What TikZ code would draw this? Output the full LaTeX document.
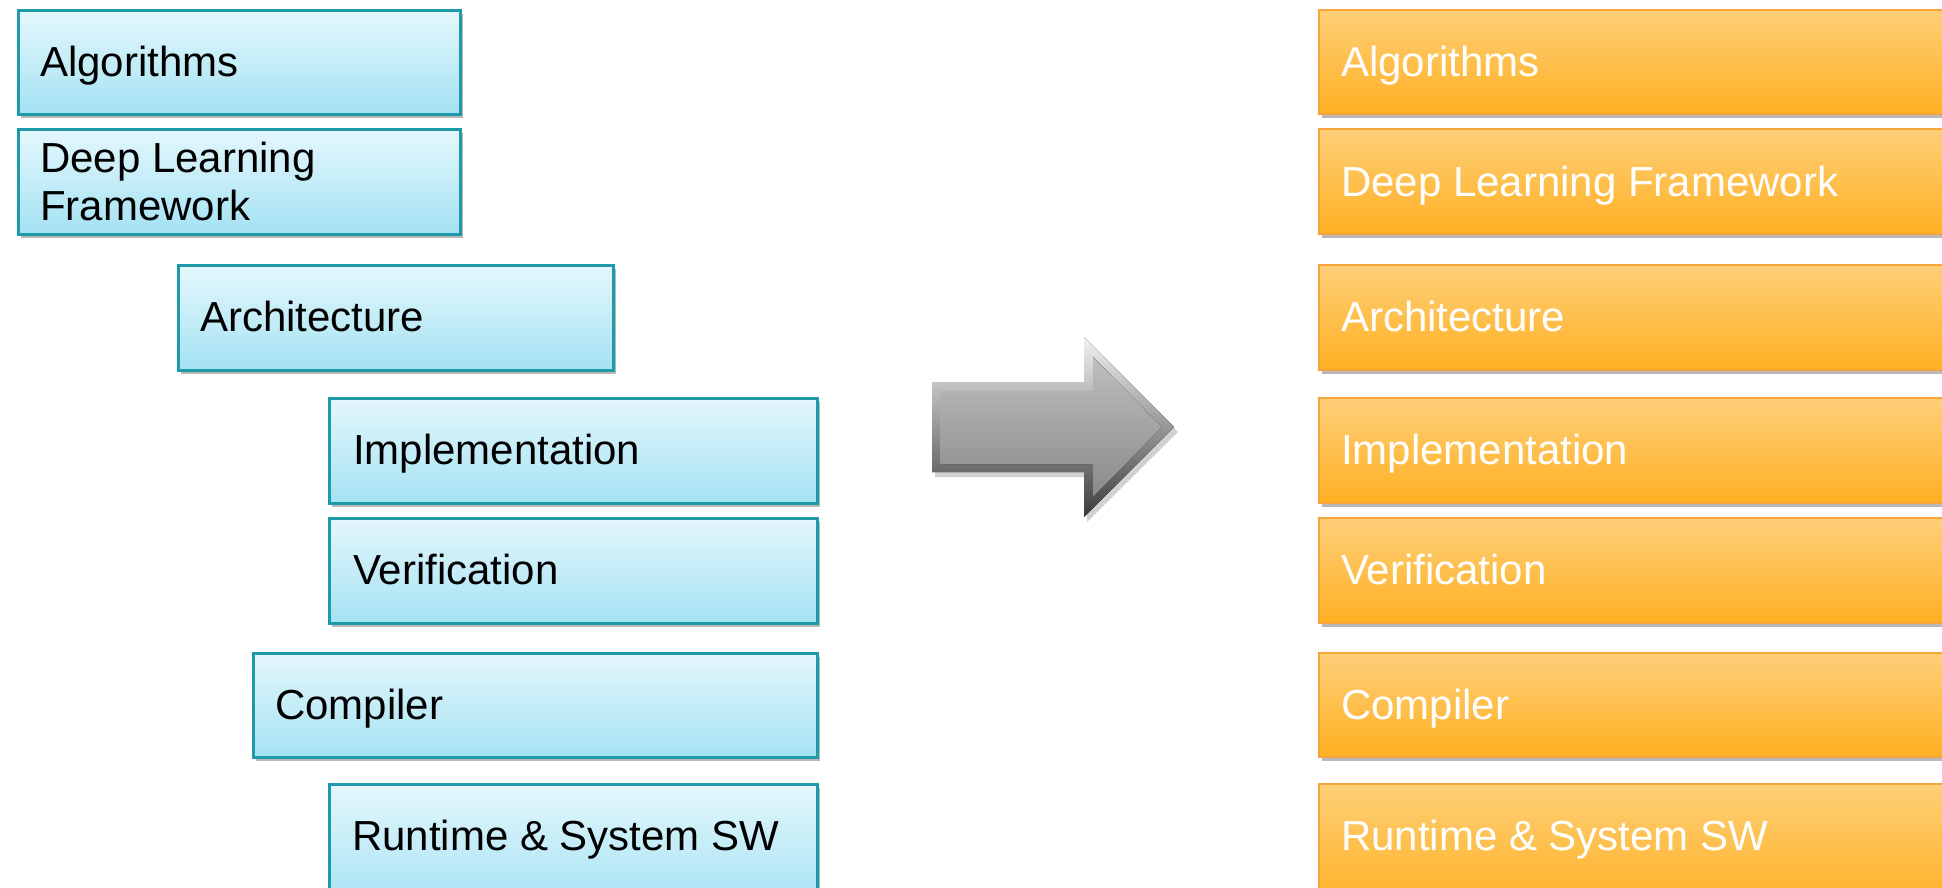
\documentclass[tikz,border=0pt]{standalone}
\usepackage{fontspec}
\setmainfont{Liberation Sans}
\usetikzlibrary{shadows}
\definecolor{ltop}{HTML}{E4F7FC}
\definecolor{lbot}{HTML}{A4E2F3}
\definecolor{lline}{HTML}{1E9AA8}
\definecolor{rtop}{HTML}{FECF78}
\definecolor{rbot}{HTML}{FFB022}
\definecolor{rline}{HTML}{F8A43C}
\definecolor{arlight}{HTML}{F2F2F2}
\definecolor{ardark}{HTML}{3C3C3C}
\definecolor{arftop}{HTML}{BEBEBE}
\definecolor{arfbot}{HTML}{8A8A8A}
\begin{document}
\begin{tikzpicture}[x=1pt,y=-1pt,
  boxbase/.style={rectangle, anchor=north west, inner sep=0pt,
    drop shadow={shadow xshift=3pt, shadow yshift=-4pt, opacity=0.28, fill=black}},
  lbox/.style={boxbase, draw=lline, line width=2.5pt, top color=ltop, bottom color=lbot},
  rbox/.style={boxbase, draw=rline, line width=2pt, top color=rtop, bottom color=rbot},
  ltxt/.style={anchor=base west, inner sep=0pt, text=black, font=\fontsize{42}{48}\selectfont},
  rtxt/.style={anchor=base west, inner sep=0pt, text=white, font=\fontsize{42}{48}\selectfont}
]
\useasboundingbox (0,0) rectangle (1942,887);
\fill[white] (0,0) rectangle (1942,887);

% left column
\node[lbox, minimum width=442pt, minimum height=104pt] (l1) at (17,9) {};
\node[lbox, minimum width=442pt, minimum height=105pt] (l2) at (17,128) {};
\node[lbox, minimum width=435pt, minimum height=105pt] (l3) at (177,264) {};
\node[lbox, minimum width=488pt, minimum height=105pt] (l4) at (328,397) {};
\node[lbox, minimum width=488pt, minimum height=105pt] (l5) at (328,517) {};
\node[lbox, minimum width=564pt, minimum height=104pt] (l6) at (252,652) {};
\node[lbox, minimum width=488pt, minimum height=125pt] (l7) at (328,783) {};

\node[ltxt] (lt1) at (40,76) {Algorithms};
\node[ltxt] (lt2a) at (40,172) {Deep Learning};
\node[ltxt] (lt2b) at (40,220) {Framework};
\node[ltxt] (lt3) at (200,331.5) {Architecture};
\node[ltxt] (lt4) at (353,464.5) {Implementation};
\node[ltxt] (lt5) at (353,584.5) {Verification};
\node[ltxt] (lt6) at (275,719) {Compiler};
\node[ltxt] (lt7) at (352,850.5) {Runtime \& System SW};

% right column
\node[rbox, minimum width=660pt, minimum height=104pt] (r1) at (1318,9) {};
\node[rbox, minimum width=660pt, minimum height=105pt] (r2) at (1318,128) {};
\node[rbox, minimum width=660pt, minimum height=105pt] (r3) at (1318,264) {};
\node[rbox, minimum width=660pt, minimum height=105pt] (r4) at (1318,397) {};
\node[rbox, minimum width=660pt, minimum height=105pt] (r5) at (1318,517) {};
\node[rbox, minimum width=660pt, minimum height=104pt] (r6) at (1318,652) {};
\node[rbox, minimum width=660pt, minimum height=125pt] (r7) at (1318,783) {};

\node[rtxt] (rt1) at (1341,76) {Algorithms};
\node[rtxt] (rt2) at (1341,196) {Deep Learning Framework};
\node[rtxt] (rt3) at (1341,331.5) {Architecture};
\node[rtxt] (rt4) at (1341,464.5) {Implementation};
\node[rtxt] (rt5) at (1341,584.5) {Verification};
\node[rtxt] (rt6) at (1341,719) {Compiler};
\node[rtxt] (rt7) at (1341,850.5) {Runtime \& System SW};

% big grey arrow
\fill[black, opacity=0.18] (935,387) -- (1087,387) -- (1087,342) -- (1178,432) -- (1087,522) -- (1087,477) -- (935,477) -- cycle;
\fill[top color=arlight, bottom color=ardark]
  (932,382) -- (1084,382) -- (1084,337) -- (1174,427) -- (1084,517) -- (1084,472) -- (932,472) -- cycle;
\fill[top color=arftop, bottom color=arfbot]
  (940,391) -- (1093,391) -- (1093,357) -- (1162,427) -- (1093,497) -- (1093,464) -- (940,464) -- cycle;
\end{tikzpicture}
\end{document}
